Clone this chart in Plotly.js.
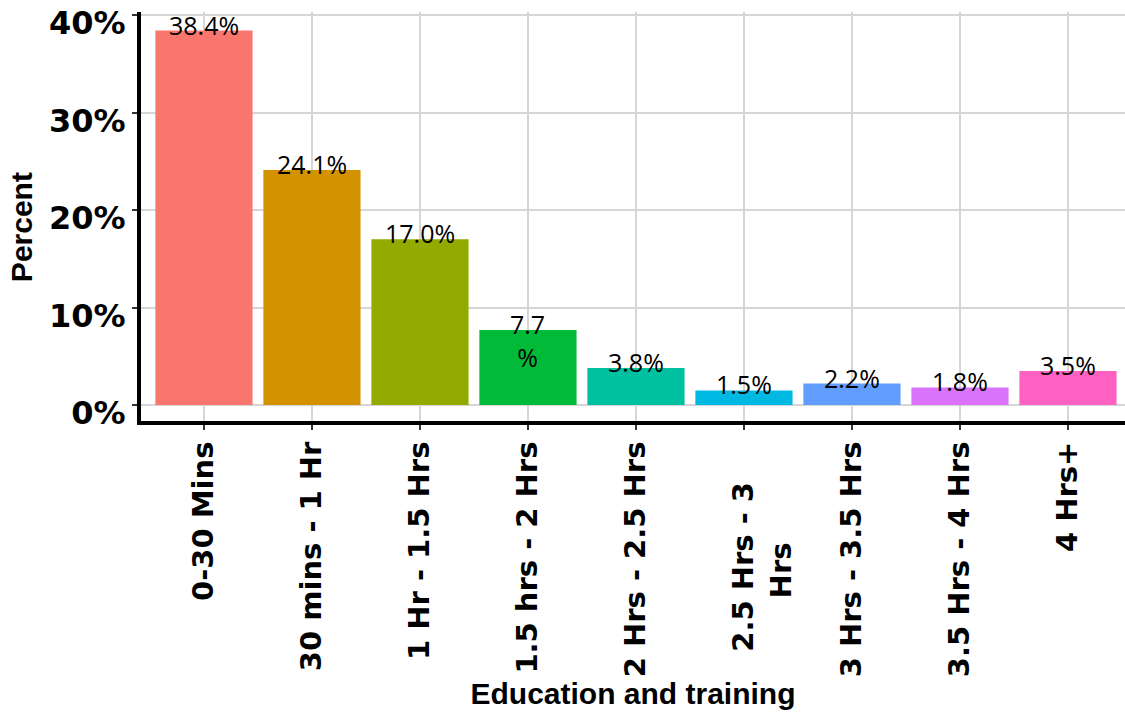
<!DOCTYPE html>
<html>
<head>
<meta charset="utf-8">
<script src="https://cdn.plot.ly/plotly-3.0.1.min.js"></script>
<style>html,body{margin:0;padding:0;background:#fff;}#chart{width:1125px;height:713px;}</style>
</head>
<body>
<div id="chart"></div>
<script>
const categories = ["0-30 Mins", "30 mins - 1 Hr", "1 Hr - 1.5 Hrs", "1.5 hrs - 2 Hrs", "2 Hrs - 2.5 Hrs", "2.5 Hrs - 3 Hrs", "3 Hrs - 3.5 Hrs", "3.5 Hrs - 4 Hrs", "4 Hrs+"];
const NB = "\u00A0";
const tickLabels = ["0-30 Mins", "30 mins - 1 Hr", "1 Hr - 1.5 Hrs", "1.5 hrs - 2 Hrs", "2 Hrs - 2.5 Hrs",
  NB + "<br>2.5 Hrs - 3" + NB.repeat(4) + "<br>Hrs" + NB.repeat(10),
  "3 Hrs - 3.5 Hrs", "3.5 Hrs - 4 Hrs", "4 Hrs+"];
const percents = [38.4, 24.1, 17.0, 7.7, 3.8, 1.5, 2.2, 1.8, 3.5];
const barLabels = ["38.4%", "24.1%", "17.0%", "7.7<br>%", "3.8%", "1.5%", "2.2%", "1.8%", "3.5%"];
const colors = ["#F8766D", "#D39200", "#93AA00", "#00BA38", "#00C19F", "#00B9E3", "#619CFF", "#DB72FB", "#FF61C3"];
const yTickVals = [0, 10, 20, 30, 40];
const yTickText = ["0%", "10%", "20%", "30%", "40%"];
const yTitle = "Percent";
const xTitle = "Education and training";

const trace = {
  type: "bar",
  x: categories,
  y: percents,
  width: 0.9,
  marker: {color: colors, line: {width: 0}},
  hoverinfo: "x+y",
  showlegend: false
};

const annotations = categories.map((c, i) => ({
  x: c, y: percents[i], xref: "x", yref: "y",
  text: barLabels[i], showarrow: false,
  xanchor: "center", yanchor: "top", yshift: 25,
  font: {family: "Open Sans", size: 25, color: "#000"}
}));
annotations.push({
  x: 0, xref: "paper", xanchor: "center", xshift: -120,
  y: 0.474, yref: "paper", yanchor: "middle",
  text: yTitle, textangle: -90, showarrow: false,
  font: {family: "Liberation Sans", size: 30, color: "#000", weight: "bold"}
});

const layout = {
  width: 1125, height: 713,
  margin: {l: 141, r: 0, t: 12, b: 292},
  paper_bgcolor: "#fff", plot_bgcolor: "#fff",
  bargap: 0.1,
  xaxis: {
    type: "category",
    range: [-0.583, 8.528],
    tickmode: "array", tickvals: categories, ticktext: tickLabels,
    tickangle: -90,
    tickfont: {family: "DejaVu Sans", size: 29, color: "#000", weight: "bold"},
    showgrid: true, gridcolor: "#d6d6d6", gridwidth: 2,
    showline: true, linecolor: "#000", linewidth: 4,
    ticks: "outside", ticklen: 5, tickwidth: 2, tickcolor: "#333",
    zeroline: false,
    title: {text: xTitle, font: {family: "Liberation Sans", size: 30, color: "#000", weight: "bold"}, standoff: 6},
    automargin: false
  },
  yaxis: {
    range: [-1.64, 40.31],
    tickmode: "array", tickvals: yTickVals, ticktext: yTickText,
    tickfont: {family: "DejaVu Sans", size: 32, color: "#000", weight: "bold"},
    ticklabeloverflow: "allow",
    ticklabelshift: 8,
    showgrid: true, gridcolor: "#d6d6d6", gridwidth: 2,
    showline: true, linecolor: "#000", linewidth: 4,
    ticks: "outside", ticklen: 5, tickwidth: 2, tickcolor: "#333",
    zeroline: false,
    automargin: false
  },
  annotations: annotations
};

Plotly.newPlot("chart", [trace], layout, {displayModeBar: false, staticPlot: true});
</script>
</body>
</html>
